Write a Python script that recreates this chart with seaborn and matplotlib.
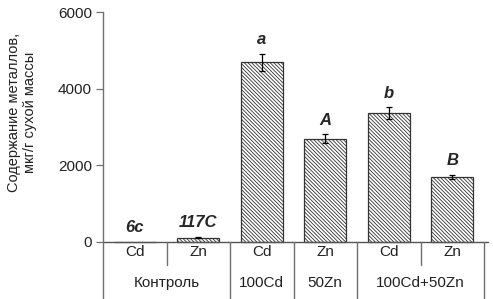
import pandas as pd
import seaborn as sns
import matplotlib.pyplot as plt

metals = ["Cd", "Zn", "Cd", "Zn", "Cd", "Zn"]
groups = ["Контроль", "100Cd", "50Zn", "100Cd+50Zn"]
group_span = [2, 1, 1, 2]
values = [6, 117, 4690, 2690, 3360, 1700]
errors = [0, 20, 220, 120, 160, 60]
letters = ["6c", "117C", "a", "A", "b", "B"]

sns.set_theme(style="white")
plt.rcParams["font.family"] = ["Liberation Sans", "DejaVu Sans"]
plt.rcParams["hatch.linewidth"] = 0.6

data = pd.DataFrame({"slot": [f"{i}" for i in range(len(values))], "value": values})

fig = plt.figure(figsize=(4.93, 2.99), dpi=100)
ax = fig.add_axes([103 / 493, 0, 381 / 493, 287 / 299])

sns.barplot(data=data, x="slot", y="value", color="white", width=0.66,
            edgecolor="#333333", linewidth=0.9, ax=ax)

px = 38.33 / 1000  # pixels per unit
for bar, v, e, lab in zip(ax.patches, values, errors, letters):
    bar.set_hatch("\\" * 9)
    xc = bar.get_x() + bar.get_width() / 2
    if e > 0:
        ax.errorbar(xc, v, yerr=e, color="black", capsize=2.5, elinewidth=0.9,
                    capthick=0.9, fmt="none")
    ax.annotate(lab, (xc, v + e), xytext=(0, 10), textcoords="offset points",
                ha="center", va="center", fontsize=12, fontweight="bold",
                fontstyle="italic")

ax.set_xlim(-0.5, 5.5)
ax.set_ylim(-57 / px, 6000)
ax.set_yticks([0, 2000, 4000, 6000])
ax.set_xticks([])
ax.set_xlabel("")
ax.set_ylabel("")
ax.tick_params(axis="y", labelsize=11, length=5, width=0.9, color="#707070",
               direction="out", left=True, pad=3, labelcolor="#222222")
for s in ["top", "right", "bottom"]:
    ax.spines[s].set_visible(False)
ax.spines["left"].set_color("#707070")
ax.spines["left"].set_linewidth(1.0)

# table below the axis
ax.plot([-0.5, 5.57], [0, 0], color="#555555", lw=1.0, clip_on=False)
short = -23 / px
for xs, low in [(0.5, short), (1.5, None), (2.5, None), (3.5, None),
                (4.5, short), (5.5, None)]:
    ax.plot([xs, xs], [0, low if low is not None else -57 / px],
            color="#707070", lw=1.0, clip_on=False)
for i, m in enumerate(metals):
    ax.text(i, -10 / px, m, ha="center", va="center", fontsize=11, color="#222222")
start = 0
for g, n in zip(groups, group_span):
    ax.text(start + (n - 1) / 2, -41 / px, g, ha="center", va="center",
            fontsize=11, color="#222222")
    start += n

fig.text(22 / 493, 1 - 112 / 299, "Содержание металлов,\nмкг/г сухой массы",
         rotation=90, ha="center", va="center", fontsize=10.5,
         multialignment="center", color="#222222")

fig.savefig("out.png", dpi=100)
plt.close()
